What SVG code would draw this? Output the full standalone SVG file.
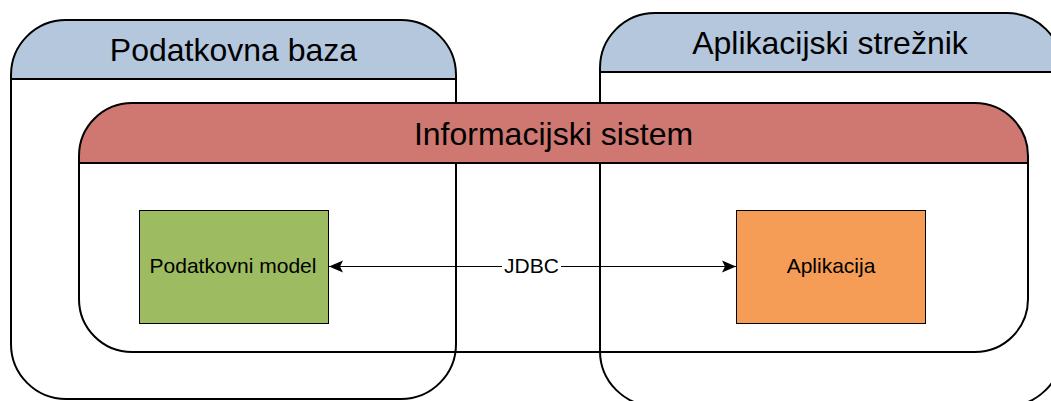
<svg xmlns="http://www.w3.org/2000/svg" width="1051" height="401" viewBox="0 0 1051 401">
  <defs>
    <marker id="arrow" viewBox="0 0 16 14" refX="15" refY="7" markerWidth="16" markerHeight="14" markerUnits="userSpaceOnUse" orient="auto-start-reverse">
      <path d="M1,1 L15,7 L1,13 L4,7 Z" fill="#000"/>
    </marker>
    <style>
      .frame { fill: none; stroke: #000; stroke-width: 2; }
      .sep { stroke: #000; stroke-width: 2; }
      .hdr-blue { fill: #B4C7DC; stroke: none; }
      .hdr-red { fill: #CF7771; stroke: none; }
      .title { font-family: "Liberation Sans", Arial, sans-serif; font-size: 32px; fill: #000; text-anchor: middle; }
      .box { stroke: #000; stroke-width: 1; }
      .label { font-family: "Liberation Sans", Arial, sans-serif; font-size: 21px; fill: #000; text-anchor: middle; }
      .link { fill: none; stroke: #000; stroke-width: 1; }
    </style>
  </defs>
  <rect width="1051" height="401" fill="#fff"/>

  <!-- Database container -->
  <g id="podatkovna-baza">
    <path class="hdr-blue" d="M11,79 L11,75 A55,55 0 0 1 66,20 L401,20 A55,55 0 0 1 456,75 L456,79 Z"/>
    <rect class="frame" x="11" y="20" width="445" height="379" rx="55" ry="55"/>
    <line class="sep" x1="11" y1="79" x2="456" y2="79"/>
    <text class="title" x="233.5" y="61">Podatkovna baza</text>
  </g>

  <!-- Application server container -->
  <g id="aplikacijski-streznik">
    <path class="hdr-blue" d="M600,72 L600,68 A55,55 0 0 1 655,13 L1007,13 A55,55 0 0 1 1062,68 L1062,72 Z"/>
    <rect class="frame" x="600" y="13" width="462" height="393" rx="55" ry="55"/>
    <line class="sep" x1="600" y1="72" x2="1062" y2="72"/>
    <text class="title" x="830" y="54">Aplikacijski strežnik</text>
  </g>

  <!-- Information system container -->
  <g id="informacijski-sistem">
    <path class="hdr-red" d="M79,163 L79,156 A53,53 0 0 1 132,103 L975,103 A53,53 0 0 1 1028,156 L1028,163 Z"/>
    <rect class="frame" x="79" y="103" width="949" height="249" rx="53" ry="53"/>
    <line class="sep" x1="79" y1="163" x2="1028" y2="163"/>
    <text class="title" x="553.5" y="145">Informacijski sistem</text>
  </g>

  <!-- Data model -->
  <g id="podatkovni-model">
    <rect class="box" x="139.5" y="210.5" width="189" height="113" fill="#9DBB61"/>
    <text class="label" x="233" y="273">Podatkovni model</text>
  </g>

  <!-- Application -->
  <g id="aplikacija">
    <rect class="box" x="736.5" y="210.5" width="189" height="113" fill="#F59D56"/>
    <text class="label" x="831" y="273">Aplikacija</text>
  </g>

  <!-- Connectors -->
  <g id="connectors">
    <line class="link" x1="329" y1="266.5" x2="736" y2="266.5" marker-start="url(#arrow)" marker-end="url(#arrow)"/>
    <rect x="502" y="255" width="59" height="22" fill="#fff"/>
    <text class="label" x="531.5" y="273">JDBC</text>
  </g>
</svg>
